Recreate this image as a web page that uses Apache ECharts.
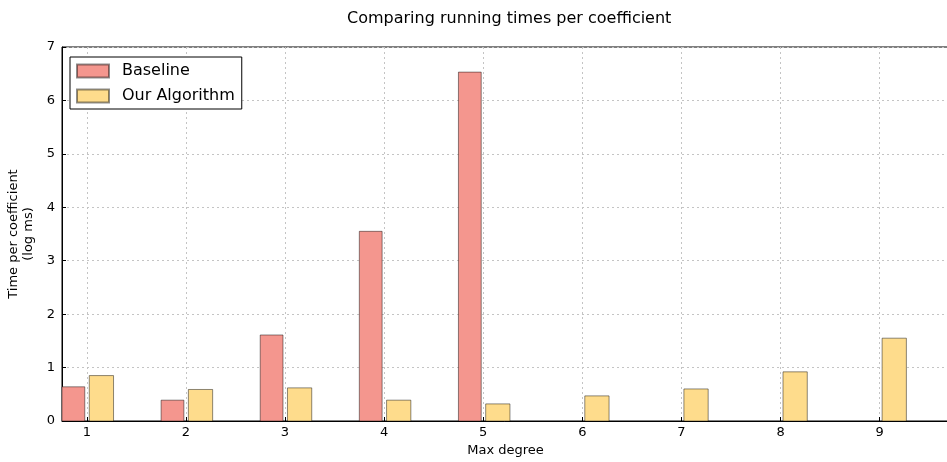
<!DOCTYPE html>
<html>
<head>
<meta charset="utf-8">
<script src="https://cdn.jsdelivr.net/npm/echarts@6/dist/echarts.min.js"></script>
<style>
    html, body { margin: 0; padding: 0; background: #fff; }
    #chart { width: 947px; height: 462px; }
</style>
</head>
<body>
<div id="chart"></div>
<script>
// data
var degrees = [1, 2, 3, 4, 5, 6, 7, 8, 9];
var baseline = [0.64, 0.39, 1.61, 3.55, 6.53, 0, 0, 0, 0];
var ourAlgo = [0.85, 0.59, 0.62, 0.39, 0.32, 0.47, 0.60, 0.92, 1.55];
var yTicks = [0, 1, 2, 3, 4, 5, 6, 7];

var FONT = "DejaVu Sans";

function barSeries(name, values, color, x0, x1) {
    return {
        name: name,
        type: 'custom',
        itemStyle: { color: color, borderColor: 'rgba(0,0,0,0.45)', borderWidth: 1 },
        data: degrees.map(function (d, i) { return [d, values[i]]; }),
        renderItem: function (params, api) {
            var x = api.value(0), y = api.value(1);
            if (!y) return null;
            var p0 = api.coord([x + x0, y]);
            var p1 = api.coord([x + x1, 0]);
            return {
                type: 'rect',
                shape: { x: p0[0], y: p0[1], width: p1[0] - p0[0], height: p1[1] - p0[1] },
                style: { fill: color, stroke: 'rgba(0,0,0,0.45)', lineWidth: 1 }
            };
        }
    };
}

var chart = echarts.init(document.getElementById("chart"));
chart.setOption({
    animation: false,
    textStyle: { fontFamily: FONT },
    title: {
        text: 'Comparing running times per coefficient',
        left: 342,
        top: 6,
        textStyle: { fontFamily: FONT, fontSize: 16, fontWeight: 'normal', color: '#000' }
    },
    legend: {
        orient: 'vertical',
        left: 70,
        top: 57,
        padding: [6, 7, 5, 6],
        itemGap: 9,
        itemWidth: 32,
        itemHeight: 13,
        icon: 'rect',
        backgroundColor: '#fff',
        borderColor: '#000',
        borderWidth: 1,
        borderRadius: 0,
        textStyle: { fontFamily: FONT, fontSize: 16, color: '#000', padding: [0, 0, 0, 8] },
        data: ['Baseline', 'Our Algorithm']
    },
    grid: {
        left: 62, right: -2, top: 47, bottom: 41,
        outerBoundsMode: 'none',
        containLabel: false,
        show: true, borderColor: '#000', borderWidth: 1, backgroundColor: 'transparent'
    },
    xAxis: {
        type: 'value',
        min: 0.75,
        max: 9.7,
        name: 'Max degree',
        nameLocation: 'middle',
        nameGap: 22,
        nameTextStyle: { fontFamily: FONT, fontSize: 13, color: '#000' },
        axisLine: { show: true, onZero: false, lineStyle: { color: '#000' } },
        axisTick: { show: true, inside: true, length: 4, customValues: degrees, lineStyle: { color: '#000' } },
        axisLabel: { customValues: degrees, margin: 5, fontFamily: FONT, fontSize: 13, color: '#000' },
        splitLine: { show: true, lineStyle: { color: '#c4c4c4', type: [2, 3] } }
    },
    yAxis: {
        type: 'value',
        min: 0,
        max: 7,
        interval: 1,
        name: 'Time per coefficient\n(log ms)',
        nameLocation: 'middle',
        nameGap: 23,
        nameTextStyle: { fontFamily: FONT, fontSize: 13, color: '#000', lineHeight: 15 },
        axisLine: { show: true, lineStyle: { color: '#000' } },
        axisTick: { show: true, inside: true, length: 4, lineStyle: { color: '#000' } },
        axisLabel: { margin: 7, fontFamily: FONT, fontSize: 13, color: '#000',
            formatter: function (v) { return yTicks.indexOf(v) >= 0 ? String(v) : ''; } },
        splitLine: { show: true, lineStyle: { color: '#c4c4c4', type: [2, 3] } }
    },
    series: [
        barSeries('Baseline', baseline, '#f4968e', -0.25, -0.02),
        barSeries('Our Algorithm', ourAlgo, '#fedc8c', 0.025, 0.27)
    ]
});
</script>
</body>
</html>
